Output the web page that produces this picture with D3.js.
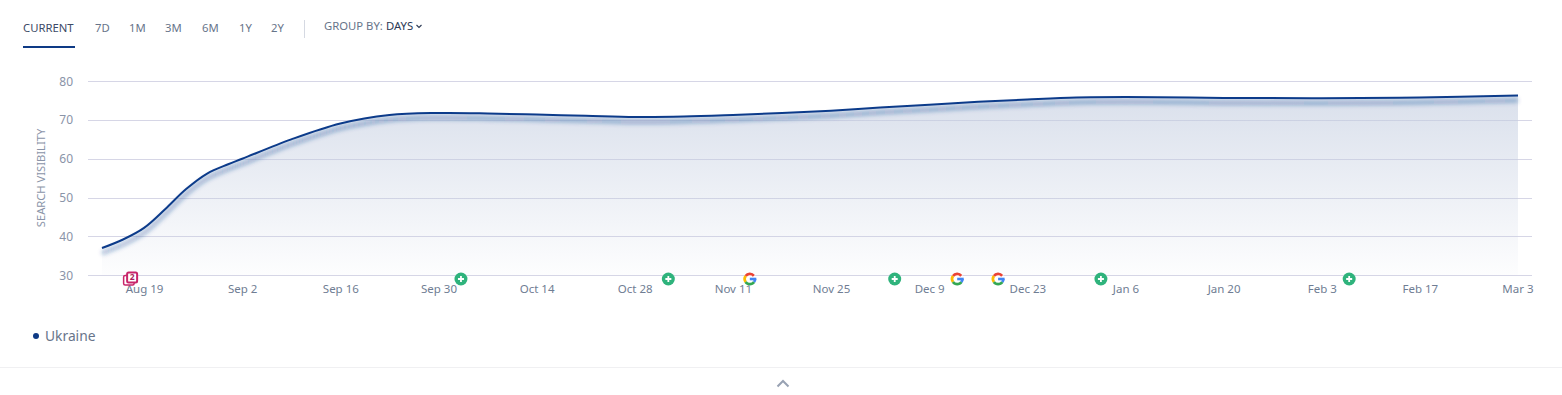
<!DOCTYPE html>
<html>
<head>
<meta charset="utf-8">
<script src="https://cdn.jsdelivr.net/npm/d3@7.9.0/dist/d3.min.js"></script>
<style>
html, body { margin: 0; padding: 0; background: #fff; overflow: hidden; }
svg { display: block; font-family: "Noto Sans", sans-serif; }
.axis .domain { display: none; }
</style>
</head>
<body>
<div id="chart"></div>
<script>
// values
const dates = ["2018-08-13", "2018-08-16", "2018-08-19", "2018-08-22", "2018-08-25", "2018-08-28", "2018-08-31",
    "2018-09-02", "2018-09-09", "2018-09-16", "2018-09-23", "2018-09-30", "2018-10-07", "2018-10-14", "2018-10-21",
    "2018-10-28", "2018-11-04", "2018-11-11", "2018-11-18", "2018-11-25", "2018-12-02", "2018-12-09", "2018-12-16",
    "2018-12-23", "2018-12-30", "2019-01-06", "2019-01-20", "2019-02-03", "2019-02-17", "2019-03-03"];
const visibility = [37.0, 39.2, 42.2, 47.0, 52.2, 56.2, 58.6,
    60.0, 65.0, 69.1, 71.3, 71.8, 71.7, 71.4, 71.1,
    70.8, 70.9, 71.3, 71.8, 72.4, 73.2, 73.9, 74.7,
    75.3, 75.8, 75.9, 75.7, 75.6, 75.8, 76.3];
const xTicks = ["2018-08-19", "2018-09-02", "2018-09-16", "2018-09-30", "2018-10-14", "2018-10-28", "2018-11-11",
    "2018-11-25", "2018-12-09", "2018-12-23", "2019-01-06", "2019-01-20", "2019-02-03", "2019-02-17", "2019-03-03"];
const yTicks = [30, 40, 50, 60, 70, 80];
const noteDates = ["2018-10-03T05:00", "2018-11-01T19:00", "2018-12-04T02:00", "2019-01-02T12:00", "2019-02-06T22:00"];
const googleDates = ["2018-11-13T10:00", "2018-12-13T00:00", "2018-12-18T20:00"];
const pageDates = ["2018-08-17T02:00"];
const periods = ["7D", "1M", "3M", "6M", "1Y", "2Y"];
const periodX = [95, 129, 165, 202, 239, 271];
const seriesName = "Ukraine";

const width = 1562;
const height = 395;
const parse = s => new Date(s.length > 10 ? s + "Z" : s + "T00:00Z");

const svg = d3.select("#chart").append("svg")
    .attr("width", width)
    .attr("height", height);

const defs = svg.append("defs");
const grad = defs.append("linearGradient")
    .attr("id", "areaFill")
    .attr("x1", 0).attr("x2", 0).attr("y1", 0).attr("y2", 1);
grad.append("stop").attr("offset", "0%").attr("stop-color", "#c3cde0").attr("stop-opacity", 0.62);
grad.append("stop").attr("offset", "100%").attr("stop-color", "#c3cde0").attr("stop-opacity", 0.03);

const blur = defs.append("filter")
    .attr("id", "lineShadow")
    .attr("x", "-2%").attr("y", "-20%").attr("width", "104%").attr("height", "140%");
blur.append("feGaussianBlur").attr("stdDeviation", 2.2);

// header
const head = svg.append("g").attr("font-size", 11.3);
head.append("text").attr("x", 23).attr("y", 32).attr("fill", "#3c4a66").text("CURRENT");
head.append("rect").attr("x", 23).attr("y", 46).attr("width", 52).attr("height", 2).attr("fill", "#0e3a85");
head.selectAll(".period")
    .data(periods)
    .join("text")
    .attr("class", "period")
    .attr("x", (d, i) => periodX[i])
    .attr("y", 32)
    .attr("fill", "#67748a")
    .text(d => d);
head.append("line")
    .attr("x1", 304.5).attr("x2", 304.5).attr("y1", 20).attr("y2", 38)
    .attr("stroke", "#d5d9e2");
head.append("text").attr("x", 324).attr("y", 30).attr("fill", "#67748a").text("GROUP BY:");
head.append("text").attr("x", 386).attr("y", 30).attr("fill", "#2b3a55").text("DAYS");
head.append("path")
    .attr("d", "M416.5 25 L419 27.5 L421.5 25")
    .attr("fill", "none").attr("stroke", "#2b3a55").attr("stroke-width", 1.1);

// scales
const x = d3.scaleUtc()
    .domain([parse(dates[0]), parse(dates[dates.length - 1])])
    .range([102, 1518]);
const y = d3.scaleLinear()
    .domain([30, 80])
    .range([275.2, 81.2]);

// y axis + grid
const yAxis = d3.axisLeft(y)
    .tickValues(yTicks)
    .tickSize(0)
    .tickPadding(0);
const yG = svg.append("g")
    .attr("class", "axis")
    .attr("transform", "translate(73,0)")
    .call(yAxis);
yG.selectAll("text")
    .attr("font-size", 12)
    .attr("fill", "#8a94a8")
    .attr("font-family", "\"Noto Sans\", sans-serif");

svg.append("g")
    .selectAll("line")
    .data(yTicks)
    .join("line")
    .attr("x1", 88)
    .attr("x2", 1532)
    .attr("y1", d => Math.round(y(d)) + 0.5)
    .attr("y2", d => Math.round(y(d)) + 0.5)
    .attr("stroke", "#d6d6e6");

svg.append("text")
    .attr("transform", "translate(45,178) rotate(-90)")
    .attr("text-anchor", "middle")
    .attr("font-size", 11.2)
    .attr("fill", "#8a94a8")
    .text("SEARCH VISIBILITY");

// area + line
const points = dates.map((d, i) => ({ date: parse(d), value: visibility[i] }));

const area = d3.area()
    .x(d => x(d.date))
    .y0(y(30))
    .y1(d => y(d.value))
    .curve(d3.curveCatmullRom);
const line = d3.line()
    .x(d => x(d.date))
    .y(d => y(d.value))
    .curve(d3.curveCatmullRom);

svg.append("path")
    .datum(points)
    .attr("d", area)
    .attr("fill", "url(#areaFill)");

svg.append("path")
    .datum(points)
    .attr("d", line)
    .attr("transform", "translate(0,5)")
    .attr("fill", "none")
    .attr("stroke", "#1a4a94")
    .attr("stroke-opacity", 0.42)
    .attr("stroke-width", 3.5)
    .attr("filter", "url(#lineShadow)");

svg.append("path")
    .datum(points)
    .attr("d", line)
    .attr("fill", "none")
    .attr("stroke", "#0c3b8a")
    .attr("stroke-width", 2);

// x axis
const xAxis = d3.axisBottom(x)
    .tickValues(xTicks.map(parse))
    .tickSize(0)
    .tickPadding(0)
    .tickFormat(d3.utcFormat("%b %-d"));
const xG = svg.append("g")
    .attr("class", "axis")
    .attr("transform", "translate(0,285)")
    .call(xAxis);
xG.selectAll("text")
    .attr("font-size", 11.5)
    .attr("fill", "#6f7d93")
    .attr("font-family", "\"Noto Sans\", sans-serif");
xG.selectAll(".tick").filter((d, i) => i === xTicks.length - 1).select("text")
    .attr("text-anchor", "end")
    .attr("dx", 15);

// event markers
const markerY = 279;

const notes = svg.append("g")
    .selectAll("g")
    .data(noteDates.map(parse))
    .join("g")
    .attr("transform", d => `translate(${x(d)},${markerY})`);
notes.append("circle").attr("r", 6.5).attr("fill", "#2fb37c");
notes.append("path")
    .attr("d", "M-3 0 H3 M0 -3 V3")
    .attr("stroke", "#fff")
    .attr("stroke-width", 1.8);

// google G: angles clockwise from 12 o'clock, in degrees
const arc = d3.arc().innerRadius(3.8).outerRadius(6.5);
const rad = a => a * Math.PI / 180;
const gParts = [
    { startAngle: rad(-55), endAngle: rad(52), color: "#ea4335" },
    { startAngle: rad(-125), endAngle: rad(-55), color: "#fbbc05" },
    { startAngle: rad(-235), endAngle: rad(-125), color: "#34a853" },
    { startAngle: rad(90), endAngle: rad(125), color: "#4285f4" }
];
const googles = svg.append("g")
    .selectAll("g")
    .data(googleDates.map(parse))
    .join("g")
    .attr("transform", d => `translate(${x(d)},${markerY})`);
googles.append("circle").attr("r", 6.5).attr("fill", "#fff");
googles.selectAll("path")
    .data(gParts)
    .join("path")
    .attr("d", arc)
    .attr("fill", d => d.color);
googles.append("rect")
    .attr("x", 0).attr("y", -1.3).attr("width", 6.5).attr("height", 2.6)
    .attr("fill", "#4285f4");

const pages = svg.append("g")
    .selectAll("g")
    .data(pageDates.map(parse))
    .join("g")
    .attr("transform", d => `translate(${x(d)},${markerY})`);
pages.append("rect")
    .attr("x", -7).attr("y", -3.5).attr("width", 10.5).attr("height", 9.5).attr("rx", 1.5)
    .attr("fill", "#fff").attr("stroke", "#c8256a").attr("stroke-width", 1.5);
pages.append("rect")
    .attr("x", -3.5).attr("y", -6.5).attr("width", 10).attr("height", 10).attr("rx", 1.5)
    .attr("fill", "#fff").attr("stroke", "#c8256a").attr("stroke-width", 2);
pages.append("text")
    .attr("x", 1.5).attr("y", 1.3)
    .attr("text-anchor", "middle")
    .attr("font-size", 8.5)
    .attr("font-weight", 700)
    .attr("fill", "#a81f5c")
    .text("2");

// legend
svg.append("circle").attr("cx", 36).attr("cy", 336).attr("r", 3).attr("fill", "#0e3a85");
svg.append("text")
    .attr("x", 45).attr("y", 341)
    .attr("font-size", 13.8)
    .attr("fill", "#67748a")
    .text(seriesName);

// footer
svg.append("line")
    .attr("x1", 0).attr("x2", width).attr("y1", 367.5).attr("y2", 367.5)
    .attr("stroke", "#f0f0f2");
svg.append("path")
    .attr("d", "M777.5 386.5 L783 381 L788.5 386.5")
    .attr("fill", "none")
    .attr("stroke", "#98a2b3")
    .attr("stroke-width", 2);
</script>
</body>
</html>
